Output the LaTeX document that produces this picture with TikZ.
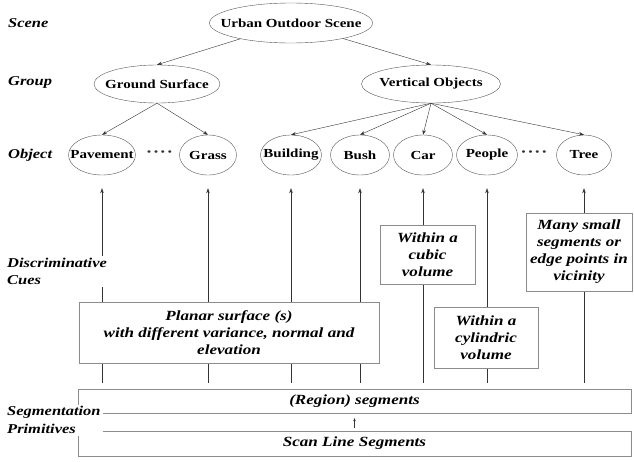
\documentclass[tikz,border=0pt]{standalone}
\usepackage{fontspec}
\setmainfont{Liberation Serif}[FakeStretch=1.22]
\usetikzlibrary{arrows.meta,shapes.geometric,backgrounds}
\definecolor{edgec}{HTML}{333333}
\definecolor{ringc}{HTML}{555555}
\definecolor{boxc}{HTML}{8C8C8C}
\newcommand{\objname}[1]{\makebox[0pt]{#1}}
\newcommand{\gapdots}{•\hspace{2.4pt}•\hspace{2.4pt}•\hspace{2.4pt}•}

\begin{document}
\begin{tikzpicture}[x=1pt, y=-1pt,
  cls/.style={ellipse, draw=ringc, inner sep=0pt, minimum height=40pt,
    minimum width=#1, font=\fontsize{12.3}{14}\selectfont\bfseries},
  grp/.style={cls=#1, minimum height=38pt},
  cue/.style={draw=boxc, fill=white, inner sep=0pt, align=center,
    font=\fontsize{14}{17}\selectfont\bfseries\itshape},
  seg/.style={cue, minimum width=553pt, minimum height=24pt},
  lvl/.style={anchor=west, align=left, fill=white, inner sep=2pt,
    font=\fontsize{13.5}{17.5}\selectfont\bfseries\itshape},
  arr/.style={-{Stealth[length=5pt,width=3.5pt]}, draw=edgec},
  cuearr/.style={arr, shorten >=13pt},
  dots/.style={inner sep=0pt, text=edgec, font=\fontsize{10.5}{10.5}\selectfont}
]
  \useasboundingbox (0,0) rectangle (634,461);

  % levels on the left
  \node[lvl] (scenelbl) at (6,23)    {Scene};
  \node[lvl] (grouplbl) at (6,82)    {Group};
  \node[lvl] (objlbl)   at (6,155)   {Object};
  \node[lvl] (cuelbl)   at (5,271.5) {Discriminative\\Cues};

  % hierarchy
  \node[cls=163pt] (urban) at (291,23) {\objname{Urban Outdoor Scene}};
  \node[grp=126pt] (ground) at (157,84) {\objname{Ground Surface}};
  \node[grp=139pt] (vert)   at (431,84) {\objname{Vertical Objects}};

  \node[cls=67pt] (pav)    at (102,155) {\objname{Pavement}};
  \node[cls=57pt] (grass)  at (208,155) {\objname{Grass}};
  \node[cls=61pt] (build)  at (291,155) {\objname{Building}};
  \node[cls=59pt] (bush)   at (360,155) {\objname{Bush}};
  \node[cls=59pt] (car)    at (423,155) {\objname{Car}};
  \node[cls=61pt] (people) at (487,155) {\objname{People}};
  \node[cls=55pt] (tree)   at (584,155) {\objname{Tree}};
  \node[dots] (dotsa) at (159.5,153) {\gapdots};
  \node[dots] (dotsb) at (534,153) {\gapdots};

  \draw[arr] (urban) -- (ground.north);
  \draw[arr] (urban) -- (vert.north);
  \draw[arr] (ground.south) -- (pav.north);
  \draw[arr] (ground.south) -- (grass.north);
  \foreach \o in {build,bush,car,people,tree}
    \draw[arr] (vert.south) -- (\o.north);

  % cues
  \node[cue, minimum width=95pt, minimum height=59pt] (cubic) at (427.5,254.5)
    {Within a\\cubic\\volume};
  \node[cue, minimum width=106pt, minimum height=78pt] (many) at (579,252)
    {Many small\\segments or\\edge points in\\vicinity};
  \node[cue, minimum width=300pt, minimum height=61pt] (planar) at (229,332.5)
    {Planar surface (s)\\with different variance, normal and\\elevation};
  \node[cue, minimum width=104pt, minimum height=61pt] (cyl) at (486,337.5)
    {Within a\\cylindric\\volume};

  % segmentation primitives
  \node[seg] (region) at (354.5,401) {(Region) segments};
  \node[seg, minimum height=25pt] (scan) at (354.5,443.5) {Scan Line Segments};
  \node[lvl] (seglbl) at (5,420) {Segmentation\\Primitives};
  \draw[arr, -{Stealth[length=3pt,width=2.5pt]}, shorten <=3pt, shorten >=5pt]
    (scan.north) -- (region.south);

  \begin{scope}[on background layer]
    \foreach \o in {pav,grass,build,bush,car,people,tree}
      \draw[cuearr] ([yshift=6pt]region.north -| \o.south) -- (\o.south);
  \end{scope}
\end{tikzpicture}
\end{document}
